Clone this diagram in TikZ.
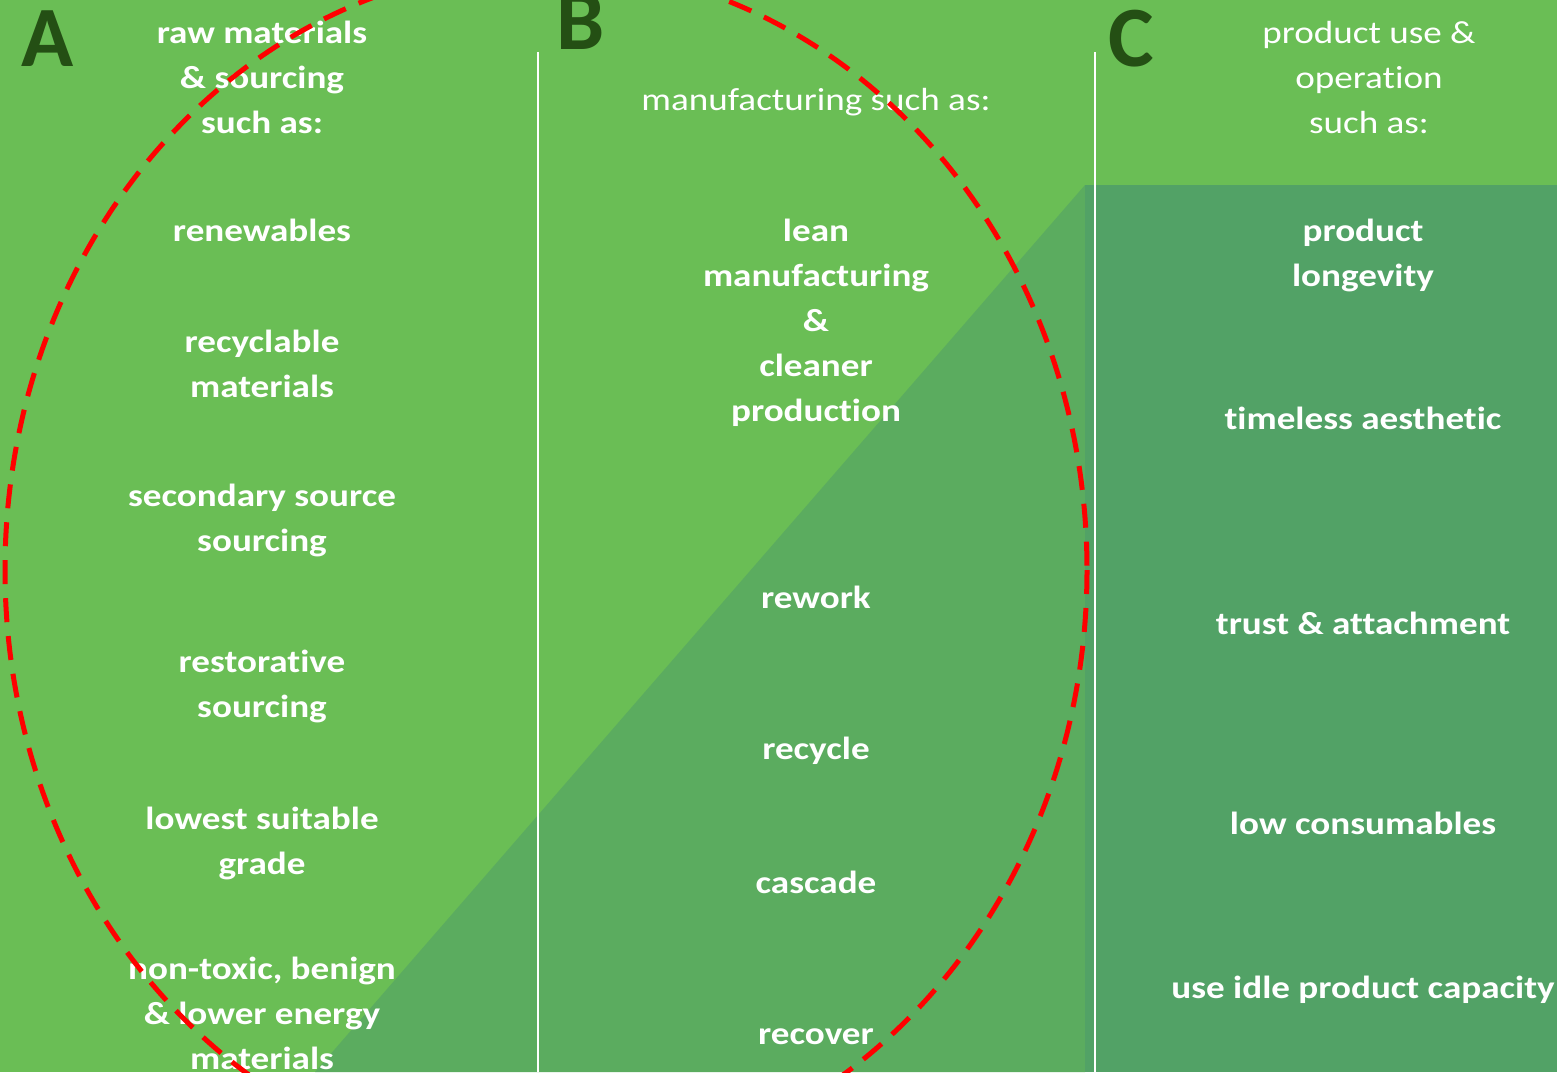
\documentclass[tikz,border=0pt]{standalone}
\usepackage{fontspec}
\setmainfont[FakeStretch=1.16, Ligatures=NoCommon]{Carlito}
\newfontfamily\letterfont{Carlito}
\definecolor{lightg}{HTML}{6ABE55}
\definecolor{midg}{HTML}{5BAC5F}
\definecolor{rightg}{HTML}{52A266}
\definecolor{letterg}{HTML}{244F14}
\tikzset{
  item/.style={text=white, font=\fontsize{32}{45}\selectfont\bfseries, align=center, anchor=base, inner sep=0pt},
  head/.style={text=white, font=\fontsize{32}{45}\selectfont, align=center, anchor=base, inner sep=0pt},
  letter/.style={text=letterg, font=\letterfont\fontsize{86}{86}\selectfont\bfseries, anchor=base, inner sep=0pt},
  sep/.style={white, line width=2pt},
  loop/.style={red, line width=5pt, dash pattern=on 24pt off 14pt}
}
\begin{document}
\begin{tikzpicture}[x=1pt,y=-1pt]
\useasboundingbox (0,0) rectangle (1557,1072);
\begin{scope}
\clip (0,0) rectangle (1557,1072);
\fill[lightg] (0,0) rectangle (1557,1072);
\fill[midg] (1085,185) -- (1085,1072) -- (315,1072) -- cycle;
\fill[rightg] (1085,185) rectangle (1557,1072);
\coordinate (s1t) at (538,52); \coordinate (s1b) at (538,1072);
\coordinate (s2t) at (1095,52); \coordinate (s2b) at (1095,1072);
\draw[sep] (s1t) -- (s1b);
\draw[sep] (s2t) -- (s2b);
% letters
\node[letter] (A) at (48,66) {A};
\node[letter] (B) at (581,49) {B};
\node[letter] (C) at (1131,66) {C};
% column A (anchor = baseline of last line)
\node[item] (ah) at (262,133) {raw materials\\\& sourcing\\such as:};
\node[item] (a1) at (262,241) {renewables};
\node[item] (a2) at (262,397) {recyclable\\materials};
\node[item] (a3) at (262,551) {secondary source\\sourcing};
\node[item] (a4) at (262,717) {restorative\\sourcing};
\node[item] (a5) at (262,874) {lowest suitable\\grade};
\node[item] (a6) at (262,1069) {non-toxic, benign\\\& lower energy\\materials};
% column B
\node[head] (bh) at (816,110) {manufacturing such as:};
\node[item] (b1) at (816,421) {lean\\manufacturing\\\&\\cleaner\\production};
\node[item] (b2) at (816,608) {rework};
\node[item] (b3) at (816,759) {recycle};
\node[item] (b4) at (816,893) {cascade};
\node[item] (b5) at (816,1044) {recover};
% column C
\node[head] (ch) at (1369,133) {product use \&\\operation\\such as:};
\node[item] (c1) at (1363,286) {product\\longevity};
\node[item] (c2) at (1363,429) {timeless aesthetic};
\node[item] (c3) at (1363,634) {trust \& attachment};
\node[item] (c4) at (1363,834) {low consumables};
\node[item] (c5) at (1363,998) {use idle product capacity};
% dashed loop
\draw[loop] (546,570) ellipse [x radius=541, y radius=604];
\end{scope}
\end{tikzpicture}
\end{document}
